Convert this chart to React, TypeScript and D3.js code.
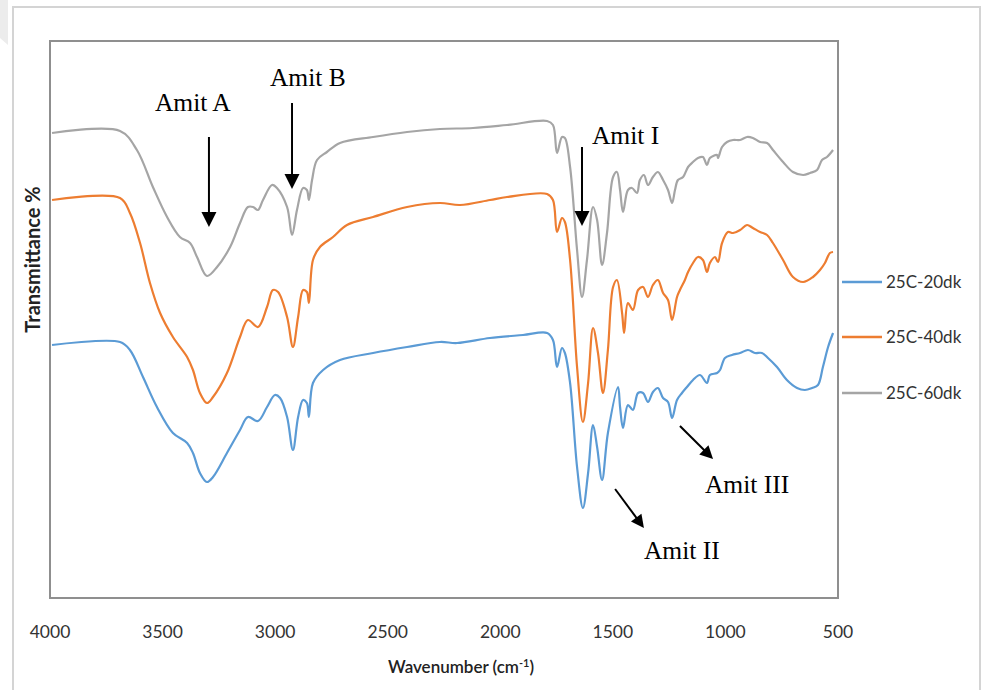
import React from 'react';
import * as d3 from 'd3';

// ---- Data (wavenumber in cm-1, transmittance in arbitrary offset units) ----
const s60Wn = [3991, 3689, 3614, 3543, 3480, 3423, 3378, 3347, 3303, 3258, 3200, 3156, 3121, 3098, 3076, 3054, 3014, 2992, 2947, 2925, 2903, 2876, 2859, 2850, 2836, 2814, 2770, 2712, 2565, 2414, 2268, 2121, 1970, 1792, 1766, 1748, 1726, 1713, 1690, 1659, 1637, 1615, 1588, 1570, 1548, 1526, 1499, 1482, 1468, 1455, 1433, 1415, 1393, 1380, 1362, 1344, 1322, 1300, 1277, 1255, 1237, 1224, 1211, 1188, 1166, 1144, 1122, 1100, 1082, 1069, 1037, 1033, 1015, 993, 966, 935, 904, 878, 846, 815, 789, 744, 700, 655, 624, 593, 571, 549, 522];
const s60T = [92.8, 93.2, 89.4, 82.0, 76.0, 72.0, 70.8, 68.0, 64.2, 66.0, 70.0, 74.8, 78.0, 78.0, 77.4, 79.4, 82.4, 81.8, 78.0, 72.4, 77.4, 81.8, 81.4, 79.4, 83.4, 87.4, 89.0, 90.8, 92.0, 93.0, 93.6, 93.8, 94.4, 95.2, 94.4, 88.8, 92.0, 91.8, 86.0, 69.4, 60.0, 67.4, 78.0, 75.4, 66.4, 72.8, 84.0, 85.0, 81.4, 77.0, 81.4, 81.8, 80.8, 83.4, 84.4, 82.4, 84.0, 85.0, 83.4, 81.4, 78.8, 81.4, 83.4, 84.0, 86.0, 87.0, 87.8, 88.0, 86.4, 87.8, 88.4, 87.8, 90.0, 91.0, 91.4, 91.4, 92.0, 91.8, 91.0, 90.8, 89.4, 87.0, 85.0, 84.4, 84.8, 85.4, 87.4, 88.0, 89.4];

const s40Wn = [3991, 3689, 3645, 3600, 3556, 3511, 3454, 3391, 3365, 3334, 3303, 3276, 3214, 3156, 3121, 3076, 3036, 3010, 2987, 2947, 2921, 2898, 2876, 2859, 2850, 2832, 2801, 2743, 2681, 2565, 2414, 2268, 2179, 2046, 1970, 1792, 1766, 1748, 1726, 1713, 1690, 1659, 1633, 1610, 1588, 1566, 1544, 1522, 1499, 1482, 1459, 1450, 1433, 1411, 1388, 1366, 1344, 1322, 1300, 1277, 1255, 1237, 1215, 1202, 1180, 1166, 1144, 1122, 1100, 1082, 1069, 1046, 1033, 1015, 989, 966, 935, 904, 878, 846, 815, 789, 744, 700, 655, 611, 580, 558, 536, 522];
const s40T = [79.4, 79.8, 76.8, 70.8, 62.8, 56.8, 52.0, 48.0, 45.4, 40.8, 38.8, 40.0, 44.8, 52.0, 55.4, 54.0, 58.0, 61.4, 61.0, 56.0, 50.0, 56.0, 61.4, 61.0, 58.8, 67.4, 70.0, 72.0, 74.4, 76.0, 78.0, 78.8, 78.4, 79.4, 80.0, 80.6, 79.4, 73.0, 75.8, 75.0, 67.4, 46.0, 35.0, 42.8, 53.8, 48.8, 40.8, 49.4, 62.0, 63.4, 56.8, 52.8, 58.8, 57.4, 61.4, 62.0, 60.0, 62.4, 63.4, 60.8, 59.4, 55.4, 60.0, 61.4, 63.4, 65.0, 66.8, 68.0, 67.4, 65.0, 66.8, 68.0, 67.0, 70.8, 73.0, 72.8, 73.4, 74.4, 73.8, 73.0, 72.4, 70.8, 67.4, 64.0, 63.0, 64.0, 65.4, 66.8, 68.8, 69.0];

const s20Wn = [3991, 3689, 3645, 3587, 3525, 3454, 3391, 3365, 3334, 3303, 3276, 3214, 3156, 3121, 3076, 3036, 3001, 2978, 2947, 2921, 2898, 2876, 2859, 2850, 2832, 2787, 2712, 2565, 2414, 2268, 2192, 2046, 1899, 1792, 1766, 1748, 1726, 1713, 1690, 1659, 1633, 1610, 1588, 1570, 1548, 1522, 1477, 1468, 1455, 1433, 1411, 1388, 1366, 1344, 1322, 1300, 1277, 1255, 1237, 1215, 1193, 1171, 1144, 1113, 1082, 1069, 1037, 1024, 1002, 971, 935, 900, 869, 838, 811, 771, 727, 682, 647, 615, 589, 567, 544, 522];
const s20T = [50.4, 51.0, 49.4, 44.0, 38.0, 32.8, 30.8, 28.8, 24.8, 23.0, 24.0, 28.8, 33.4, 36.0, 35.2, 38.0, 40.4, 39.8, 36.0, 29.4, 36.0, 39.4, 38.8, 36.0, 42.8, 45.4, 47.4, 48.8, 50.0, 51.0, 50.8, 51.8, 52.4, 52.8, 51.4, 46.0, 49.8, 48.8, 42.8, 26.0, 17.8, 24.8, 34.4, 30.0, 23.4, 32.8, 42.0, 38.0, 33.8, 38.4, 37.4, 40.8, 40.8, 39.0, 41.0, 41.8, 39.8, 39.0, 35.8, 39.4, 40.8, 42.0, 43.4, 44.4, 42.8, 44.4, 44.8, 45.4, 47.8, 48.4, 48.8, 49.4, 48.8, 48.8, 47.8, 46.0, 43.4, 41.8, 41.4, 41.8, 42.4, 46.0, 50.0, 52.8];

const seriesNames = ['25C-20dk', '25C-40dk', '25C-60dk'];
const xTicks = [4000, 3500, 3000, 2500, 2000, 1500, 1000, 500];

// annotation anchors in data space: label position, arrow start, arrow tip
const annLabels = ['Amit A', 'Amit B', 'Amit I', 'Amit II', 'Amit III'];
const annTextWn = [3534, 3023, 1593, 1362, 1091];
const annTextT = [97.2, 102.2, 90.6, 7.6, 20.8];
const annFromWn = [3294, 2925, 1637, 1490, 1202];
const annFromT = [92, 98.8, 90, 21.6, 34.2];
const annToWn = [3294, 2925, 1637, 1362, 1055];
const annToT = [74, 81.6, 74.2, 13.8, 27.6];

const COLORS = ['#5b9bd5', '#ed7d31', '#a5a5a5'];

export default function App() {
  const W = 988, H = 690;
  const plot = { left: 50, right: 838, top: 41, bottom: 598 };
  const x = d3.scaleLinear().domain([4000, 500]).range([plot.left, plot.right]);
  const y = d3.scaleLinear().domain([0, 111]).range([597, 42]);

  const all = [
    { wn: s20Wn, t: s20T },
    { wn: s40Wn, t: s40T },
    { wn: s60Wn, t: s60T },
  ];
  const line = d3
    .line<[number, number]>()
    .x((d) => x(d[0]))
    .y((d) => y(d[1]))
    .curve(d3.curveCatmullRom.alpha(0.5));

  const axisFont = 'Lato, "Open Sans", sans-serif';
  const serif = '"Liberation Serif", "DejaVu Serif", serif';

  const arrows = annLabels.map((lab, i) => {
    const x1 = x(annFromWn[i]), y1 = y(annFromT[i]);
    const x2 = x(annToWn[i]), y2 = y(annToT[i]);
    const dx = x2 - x1, dy = y2 - y1;
    const len = Math.hypot(dx, dy);
    const ux = dx / len, uy = dy / len;
    const diag = Math.abs(dx) > 1;
    const L = diag ? 13 : 15;
    const Wd = diag ? 6.5 : 7.5;
    const bx = x2 - L * ux, by = y2 - L * uy;
    const nx = -uy, ny = ux;
    const head = `M${x2},${y2}L${bx + Wd * nx},${by + Wd * ny}L${bx - Wd * nx},${by - Wd * ny}Z`;
    return (
      <g key={lab}>
        <line x1={x1} y1={y1} x2={x2 - L * 0.7 * ux} y2={y2 - L * 0.7 * uy} stroke="#000" strokeWidth={2} />
        <path d={head} fill="#000" />
        <text
          x={x(annTextWn[i])}
          y={y(annTextT[i])}
          fontFamily={serif}
          fontSize={25.5}
          fill="#000"
        >
          {lab}
        </text>
      </g>
    );
  });

  const legendY = [282, 337, 393];

  return (
    <svg width={W} height={H} style={{ position: 'absolute', left: 0, top: 0, background: '#fff' }}>
      <path d="M0,0H8V45L0,38Z" fill="#ececec" />
      <rect x={13} y={7} width={967} height={700} fill="#fff" stroke="#d4d4d4" strokeWidth={2} />
      <rect
        x={plot.left}
        y={plot.top}
        width={plot.right - plot.left}
        height={plot.bottom - plot.top}
        fill="none"
        stroke="#8f8f8f"
        strokeWidth={2}
      />
      {all.map((s, i) => (
        <path
          key={i}
          d={line(s.wn.map((w, j) => [w, s.t[j]] as [number, number])) || ''}
          fill="none"
          stroke={COLORS[i]}
          strokeWidth={2.2}
          strokeLinejoin="round"
        />
      ))}
      {xTicks.map((t) => (
        <text
          key={t}
          x={x(t)}
          y={638}
          textAnchor="middle"
          fontFamily={axisFont}
          fontSize={17.5}
          fill="#333"
        >
          {t}
        </text>
      ))}
      <text x={(plot.left + plot.right) / 2 + 17} y={673} textAnchor="middle" fontFamily={axisFont} fontSize={17} fontWeight={600} fill="#222">
        Wavenumber (cm
        <tspan dy={-6} fontSize={11}>-1</tspan>
        <tspan dy={6}>)</tspan>
      </text>
      <text
        transform={`translate(40,${(plot.top + plot.bottom) / 2 - 60}) rotate(-90)`}
        textAnchor="middle"
        fontFamily={axisFont}
        fontSize={20}
        fontWeight={700}
        fill="#222"
      >
        Transmittance %
      </text>
      {seriesNames.map((n, i) => (
        <g key={n}>
          <line x1={842} x2={882} y1={legendY[i]} y2={legendY[i]} stroke={COLORS[i]} strokeWidth={2.5} />
          <text x={886} y={legendY[i] + 6} fontFamily={axisFont} fontSize={17} fill="#333">
            {n}
          </text>
        </g>
      ))}
      {arrows}
    </svg>
  );
}
